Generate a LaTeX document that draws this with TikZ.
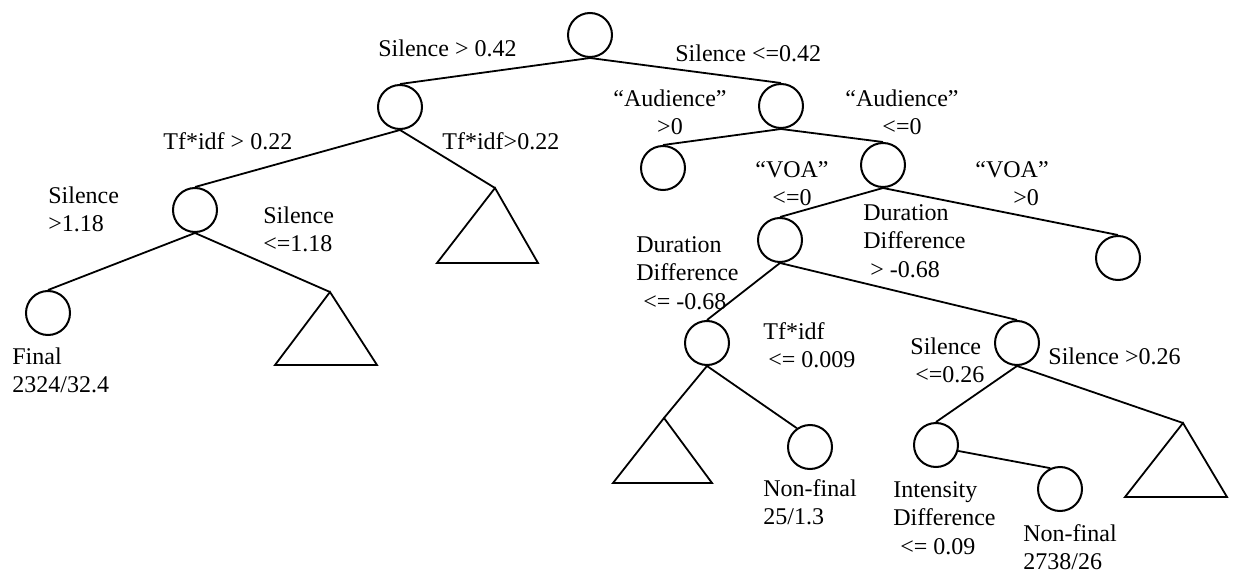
\documentclass[tikz,border=0pt]{standalone}
\usepackage{fontspec}
\setmainfont{Liberation Serif}
\usepackage{tikz}
\usetikzlibrary{positioning}

\begin{document}
\begin{tikzpicture}[
  x = 0.5pt, y = -0.5pt,
  nd/.style   = {draw, circle, minimum size=22pt, inner sep=0pt,
                 line width=1pt},
  ln/.style   = {line width=0.9pt},
  lbl/.style  = {font=\fontsize{12}{14.3}\selectfont, inner sep=0pt,
                 anchor=north west, align=left},
  clbl/.style = {lbl, anchor=north, align=center}
]
\useasboundingbox (0,0) rectangle (1233,573);

% Nodes
\node[nd] (root) at (590,35)  {};
\node[nd] (l1)   at (400,107) {};
\node[nd] (r1)   at (781,106) {};
\node[nd] (l2)   at (195,210) {};
\node[nd] (fin)  at (48,313)  {};
\node[nd] (a0)   at (663,168) {};
\node[nd] (r2)   at (883,165) {};
\node[nd] (r3)   at (780,240) {};
\node[nd] (r4)   at (1118,258) {};
\node[nd] (r5)   at (707,343) {};
\node[nd] (r6)   at (1017,343) {};
\node[nd] (nf1)  at (810,447) {};
\node[nd] (id)   at (936,445) {};
\node[nd] (nf2)  at (1060,489) {};

% Subtrees
\coordinate (t1) at (495,188);
\coordinate (t2) at (330,292);
\coordinate (t3) at (664,418);
\coordinate (t4) at (1183,423);
\draw[ln] (t1) -- ++(-58,75) -- ++(101,0) -- cycle;
\draw[ln] (t2) -- ++(-55,73) -- ++(102,0) -- cycle;
\draw[ln] (t3) -- ++(-51,65) -- ++(99,0) -- cycle;
\draw[ln] (t4) -- ++(-58,74) -- ++(102,0) -- cycle;

% Edges
\draw[ln] (root.south) -- (l1.north);
\draw[ln] (root.south) -- (r1.north);
\draw[ln] (l1.south) -- (l2.north);
\draw[ln] (l1.south) -- (t1);
\draw[ln] (l2.south) -- (fin.north);
\draw[ln] (l2.south) -- (t2);
\draw[ln] (r1.south) -- (a0.north);
\draw[ln] (r1.south) -- (r2.north);
\draw[ln] (r2.south) -- (r3.north);
\draw[ln] (r2.south) -- (r4.north);
\draw[ln] (r3.south) -- (r5.north);
\draw[ln] (r3.south) -- (r6.north);
\draw[ln] (r5.south) -- (t3);
\draw[ln] (r5.south) -- (nf1.125);
\draw[ln] (r6.south) -- (id.north);
\draw[ln] (r6.south) -- (t4);
\draw[ln] (id.-15) -- (nf2.115);

% Split labels
\node[lbl]  (s042a) at (378,39)  {Silence > 0.42};
\node[lbl]  (s042b) at (675,44)  {Silence <=0.42};
\node[clbl] (aud1)  at (670,89)  {“Audience”\\>0};
\node[clbl] (aud2)  at (902,89)  {“Audience”\\<=0};
\node[lbl]  (tf1)   at (163,132) {Tf*idf > 0.22};
\node[lbl]  (tf2)   at (442,132) {Tf*idf>0.22};
\node[lbl]  (s118a) at (48,186)  {Silence\\>1.18};
\node[lbl]  (s118b) at (263,206) {Silence\\<=1.18};
\node[clbl] (voa1)  at (792,161) {“VOA”\\<=0};
\node[lbl]  (voa2)  at (975,161) {“VOA”\\\hspace*{19pt}>0};
\node[lbl]  (dd1)   at (863,204) {Duration\\Difference\\\hspace*{3.5pt}> -0.68};
\node[lbl]  (dd2)   at (636,236) {Duration\\Difference\\\hspace*{3.5pt}<= -0.68};
\node[lbl]  (tf3)   at (763,322) {Tf*idf\\\hspace*{2.5pt}<= 0.009};
\node[lbl]  (s026a) at (910,337) {Silence\\\hspace*{2.5pt}<=0.26};
\node[lbl]  (s026b) at (1048,347) {Silence >0.26};

% Leaf notes
\node[lbl] (fnote)  at (12,347)  {Final\\2324/32.4};
\node[lbl] (nnote1) at (763,479) {Non-final\\25/1.3};
\node[lbl] (idnote) at (893,481) {Intensity\\Difference\\\hspace*{3.5pt}<= 0.09};
\node[lbl] (nnote2) at (1023,524) {Non-final\\2738/26};
\end{tikzpicture}
\end{document}
